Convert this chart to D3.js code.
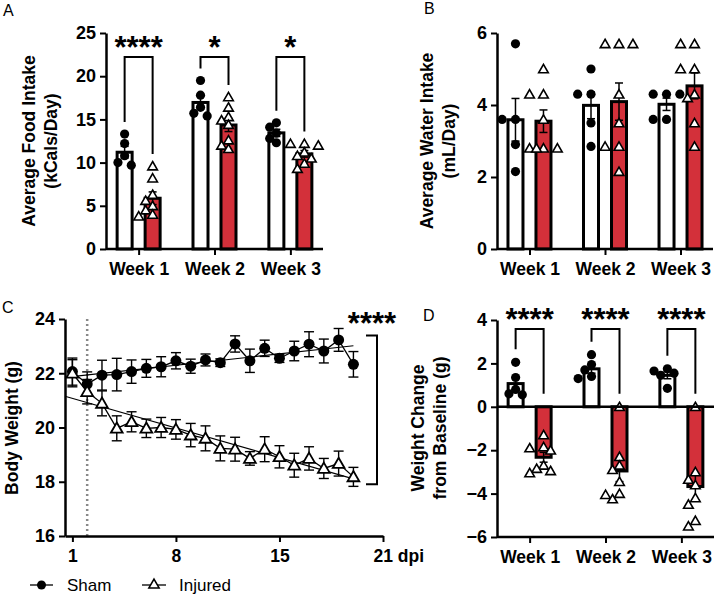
<!DOCTYPE html>
<html>
<head>
<meta charset="utf-8">
<script src="https://cdn.jsdelivr.net/npm/d3@7"></script>
<style>
  body { margin: 0; background: #fff; }
  svg { font-family: 'Liberation Sans', Arial, sans-serif; }
</style>
</head>
<body>
<svg id="chart" width="714" height="597"></svg>
<script>
// ---- data ----
const weeks = ['Week 1', 'Week 2', 'Week 3']

const foodSham = [[13.3, 12.2, 10.8, 10.0, 9.7], [19.5, 17.8, 16.4, 15.7, 15.4], [14.6, 14.1, 13.4, 12.8, 12.3]]
const foodInjured = [[9.6, 8.2, 6.3, 5.6, 5.0, 4.5, 4.0, 3.8], [17.6, 16.4, 15.3, 14.9, 14.4, 12.6, 12.0, 11.6], [12.2, 12.2, 12.0, 11.2, 10.8, 10.5, 9.9, 9.3]]
const foodStars = ['****', '*', '*']
const foodTicks = [0, 5, 10, 15, 20, 25]

const waterSham = [[5.7, 3.6, 3.6, 2.9, 2.15], [5.0, 4.3, 4.3, 3.5, 2.85], [4.3, 4.3, 4.3, 3.6, 3.6]]
const waterInjured = [[5.0, 4.3, 4.3, 3.6, 2.8, 2.8, 2.8, 2.8], [5.7, 5.7, 5.7, 4.3, 3.5, 2.85, 2.85, 2.15], [5.7, 5.7, 5.0, 5.0, 4.3, 4.2, 3.5, 2.85]]
const waterTicks = [0, 2, 4, 6]

const changeSham = [[2.05, 1.35, 0.8, 0.6, 0.55], [2.4, 1.95, 1.7, 1.4, 1.3], [1.75, 1.65, 1.55, 1.45, 0.85]]
const changeInjured = [[-1.3, -1.85, -1.9, -2.0, -2.7, -2.85, -2.95, -3.05], [0, -2.3, -2.7, -2.9, -3.45, -4.0, -4.05, -4.25], [0, -3.0, -3.35, -3.6, -4.2, -4.5, -5.25, -5.5]]
const changeStars = ['****', '****', '****']
const changeTicks = [-6, -4, -2, 0, 2, 4]

const days = [1, 2, 3, 4, 5, 6, 7, 8, 9, 10, 11, 12, 13, 14, 15, 16, 17, 18, 19, 20]
const shamWeight = [22.06, 21.6, 21.93, 21.95, 22.06, 22.18, 22.24, 22.46, 22.26, 22.49, 22.39, 23.08, 22.46, 22.92, 22.55, 22.82, 23.07, 22.82, 23.23, 22.33]
const shamSem = [0.5, 0.45, 0.55, 0.6, 0.43, 0.33, 0.37, 0.3, 0.26, 0.22, 0.14, 0.3, 0.43, 0.3, 0.15, 0.36, 0.46, 0.44, 0.42, 0.47]
const injuredWeight = [22.0, 21.32, 20.89, 19.97, 20.21, 19.97, 20.0, 19.93, 19.72, 19.6, 19.23, 19.2, 18.86, 19.2, 18.92, 18.61, 18.86, 18.49, 18.67, 18.18]
const injuredSem = [0.5, 0.45, 0.46, 0.46, 0.37, 0.34, 0.37, 0.36, 0.43, 0.46, 0.46, 0.44, 0.25, 0.46, 0.41, 0.44, 0.43, 0.37, 0.46, 0.35]
const injuryDay = 2
const dayTicks = [1, 8, 15, 22]
const dayTickLabels = ['1', '8', '15', '21 dpi']
const weightTicks = [16, 18, 20, 22, 24]

const red = '#d3303a'
const axisWidth = 2.5
const svg = d3.select('#chart')

const sem = vals => d3.deviation(vals) / Math.sqrt(vals.length)

// simple beeswarm so overlapping points spread sideways a little
function swarm (vals, y, r) {
  const placed = []
  const steps = [0, -1, 1, -2, 2]
  return vals.map(v => {
    const py = y(v)
    let best = 0
    let bestGap = -1
    for (const s of steps) {
      const dx = s * r
      const gap = d3.min(placed, p => Math.hypot(p.x - dx, p.y - py)) ?? Infinity
      if (gap >= r * 1.1) { best = dx; break }
      if (gap > bestGap) { bestGap = gap; best = dx }
    }
    placed.push({ x: best, y: py })
    return best
  })
}

function styleAxis (g) {
  g.select('.domain').attr('stroke-width', axisWidth)
  g.selectAll('.tick line').attr('stroke-width', 2)
  g.selectAll('.tick text').attr('font-size', 18).attr('font-weight', 'bold').attr('fill', '#000')
}

function yTitle (lines, x, yMid) {
  lines.forEach((t, i) => {
    svg.append('text')
      .attr('transform', `translate(${x[i]},${yMid}) rotate(-90)`)
      .attr('text-anchor', 'middle')
      .attr('dominant-baseline', 'central')
      .attr('font-size', 17.5)
      .attr('font-weight', 'bold')
      .text(t)
  })
}

function letter (t, x, y) {
  svg.append('text').attr('x', x).attr('y', y).attr('font-size', 16).text(t)
}

function triangle (size) {
  return d3.symbol(d3.symbolTriangle).size(size)()
}

function barPanel (o) {
  const y = d3.scaleLinear().domain(o.domain).range([o.bottom, o.top])
  const x = d3.scalePoint().domain(weeks).range([o.left, o.right]).padding(0.43)
  const g = svg.append('g')
  const off = 14
  const bw = 15
  const base = y(0)

  const groups = []
  weeks.forEach((w, i) => {
    groups.push({ w, cx: x(w) - off, vals: o.sham[i], kind: 'sham' })
    groups.push({ w, cx: x(w) + off, vals: o.injured[i], kind: 'injured' })
  })

  groups.forEach(d => {
    const m = d3.mean(d.vals)
    const e = sem(d.vals)
    g.append('rect')
      .attr('x', d.cx - bw / 2)
      .attr('width', bw)
      .attr('y', Math.min(base, y(m)))
      .attr('height', Math.abs(base - y(m)))
      .attr('fill', d.kind === 'sham' ? '#fff' : red)
      .attr('stroke', '#000')
      .attr('stroke-width', 3)
    const eb = g.append('g').attr('stroke', '#000').attr('stroke-width', 1.5)
    eb.append('line').attr('x1', d.cx).attr('x2', d.cx).attr('y1', y(m - e)).attr('y2', y(m + e))
    ;[m - e, m + e].forEach(v => {
      eb.append('line').attr('x1', d.cx - 4).attr('x2', d.cx + 4).attr('y1', y(v)).attr('y2', y(v))
    })
    const r = d.kind === 'sham' ? 4.6 : 4.8
    const dx = swarm(d.vals, y, r * 1.45)
    d.vals.forEach((v, j) => {
      if (d.kind === 'sham') {
        g.append('circle').attr('cx', d.cx + dx[j]).attr('cy', y(v)).attr('r', r).attr('fill', '#000')
      } else {
        g.append('path')
          .attr('d', triangle(40))
          .attr('transform', `translate(${d.cx + dx[j]},${y(v) + 1})`)
          .attr('fill', '#fff')
          .attr('stroke', '#000')
          .attr('stroke-width', 1.6)
      }
    })
  })

  // axes
  const ya = g.append('g').attr('transform', `translate(${o.left},0)`)
    .call(d3.axisLeft(y).tickValues(o.ticks).tickFormat(d3.format('d')).tickSize(6).tickPadding(4).tickSizeOuter(0))
  styleAxis(ya)
  const xa = g.append('g').attr('transform', `translate(0,${o.bottom})`)
    .call(d3.axisBottom(x).tickSize(6).tickPadding(8).tickSizeOuter(0))
  xa.select('.domain').attr('d', `M${o.left},0H${o.right}`)
  styleAxis(xa)
  xa.selectAll('.tick text').attr('font-size', 17.5)
  if (o.zeroLine) {
    g.append('line').attr('x1', o.left).attr('x2', o.right).attr('y1', base).attr('y2', base)
      .attr('stroke', '#000').attr('stroke-width', axisWidth)
  }

  // significance brackets
  if (o.stars) {
    weeks.forEach((w, i) => {
      const lx = x(w) - off
      const rx = x(w) + off
      const ly = Math.min(y(d3.max(o.sham[i])), base) - o.gap
      const ry = Math.min(y(d3.max(o.injured[i])), base) - o.gap
      g.append('path')
        .attr('d', `M${lx},${ly}V${o.bracketY}H${rx}V${ry}`)
        .attr('fill', 'none').attr('stroke', '#000').attr('stroke-width', 2)
      g.append('text')
        .attr('x', x(w)).attr('y', o.bracketY + 1)
        .attr('text-anchor', 'middle')
        .attr('font-size', 31).attr('font-weight', 'bold')
        .text(o.stars[i])
    })
  }
}

// ---- Panel A ----
barPanel({ left: 106, right: 323, top: 33, bottom: 249, domain: [0, 25], ticks: foodTicks, sham: foodSham, injured: foodInjured, stars: foodStars, bracketY: 57, gap: 12 })
yTitle(['Average Food Intake', '(kCals/Day)'], [29, 51], 141)
letter('A', 3, 16)

// ---- Panel B ----
barPanel({ left: 497, right: 713, top: 33, bottom: 249, domain: [0, 6], ticks: waterTicks, sham: waterSham, injured: waterInjured })
yTitle(['Average Water Intake', '(mL/Day)'], [427, 449], 141)
letter('B', 424, 14)

// ---- Panel D ----
barPanel({ left: 497, right: 714, top: 320, bottom: 537, domain: [-6, 4], ticks: changeTicks, sham: changeSham, injured: changeInjured, stars: changeStars, bracketY: 329, gap: 13, zeroLine: true })
yTitle(['Weight Change', 'from Baseline (g)'], [418, 440], 428)
letter('D', 423, 321)

// ---- Panel C ----
{
  const left = 65
  const right = 383
  const top = 319
  const bottom = 536
  const x = d3.scaleLinear().domain([0.5, 22]).range([left, right])
  const y = d3.scaleLinear().domain([16, 24]).range([bottom, top])
  const g = svg.append('g')

  g.append('line')
    .attr('x1', x(injuryDay)).attr('x2', x(injuryDay)).attr('y1', top).attr('y2', bottom)
    .attr('stroke', '#888').attr('stroke-width', 2.5).attr('stroke-dasharray', '2,3')

  const series = [
    { kind: 'sham', mean: shamWeight, err: shamSem },
    { kind: 'injured', mean: injuredWeight, err: injuredSem }
  ]

  series.forEach(s => {
    // linear regression through the means
    const mx = d3.mean(days)
    const my = d3.mean(s.mean)
    const slope = d3.sum(days, (d, i) => (d - mx) * (s.mean[i] - my)) / d3.sum(days, d => (d - mx) ** 2)
    const fit = d => my + slope * (d - mx)
    g.append('line')
      .attr('x1', x(0.5)).attr('y1', y(fit(0.5)))
      .attr('x2', x(days[days.length - 1])).attr('y2', y(fit(days[days.length - 1])))
      .attr('stroke', '#000').attr('stroke-width', 1.1)

    g.append('path')
      .datum(days)
      .attr('d', d3.line().x(d => x(d)).y((d, i) => y(s.mean[i])))
      .attr('fill', 'none').attr('stroke', '#000').attr('stroke-width', 1.3)

    days.forEach((d, i) => {
      const cx = x(d)
      const lo = y(s.mean[i] - s.err[i])
      const hi = y(s.mean[i] + s.err[i])
      const eb = g.append('g').attr('stroke', '#000').attr('stroke-width', 1.4)
      eb.append('line').attr('x1', cx).attr('x2', cx).attr('y1', lo).attr('y2', hi)
      ;[lo, hi].forEach(v => eb.append('line').attr('x1', cx - 5).attr('x2', cx + 5).attr('y1', v).attr('y2', v))
    })
  })

  series.forEach(s => {
    days.forEach((d, i) => {
      if (s.kind === 'sham') {
        g.append('circle').attr('cx', x(d)).attr('cy', y(s.mean[i])).attr('r', 5.5).attr('fill', '#000')
      } else {
        g.append('path')
          .attr('d', triangle(60))
          .attr('transform', `translate(${x(d)},${y(s.mean[i]) + 1})`)
          .attr('fill', '#fff').attr('stroke', '#000').attr('stroke-width', 1.8)
      }
    })
  })

  const ya = g.append('g').attr('transform', `translate(${left},0)`)
    .call(d3.axisLeft(y).tickValues(weightTicks).tickSize(6).tickPadding(4).tickSizeOuter(0))
  styleAxis(ya)
  const xa = g.append('g').attr('transform', `translate(0,${bottom})`)
    .call(d3.axisBottom(x).tickValues(dayTicks).tickFormat((d, i) => dayTickLabels[i]).tickSize(6).tickPadding(8).tickSizeOuter(0))
  styleAxis(xa)
  xa.selectAll('.tick text').attr('font-size', 17.5)
    .filter((d, i) => i === dayTicks.length - 1).attr('text-anchor', 'start').attr('dx', -10)

  // right bracket between the curves at the last day
  const last = days.length - 1
  const bTop = y(shamWeight[last] + shamSem[last]) - 16
  const bBot = y(injuredWeight[last] - injuredSem[last]) - 2
  const bx = 377
  g.append('path')
    .attr('d', `M${bx - 11},${bTop}H${bx}V${bBot}H${bx - 11}`)
    .attr('fill', 'none').attr('stroke', '#000').attr('stroke-width', 2)
  g.append('text')
    .attr('x', 372).attr('y', 334)
    .attr('text-anchor', 'middle')
    .attr('font-size', 31).attr('font-weight', 'bold')
    .text('****')

  yTitle(['Body Weight (g)'], [12], 428)
  letter('C', 2, 313)

  // legend
  const ly = 585
  const lg = svg.append('g').attr('font-size', 17)
  lg.append('line').attr('x1', 30).attr('x2', 53).attr('y1', ly).attr('y2', ly).attr('stroke', '#000').attr('stroke-width', 1.3)
  lg.append('circle').attr('cx', 41.5).attr('cy', ly).attr('r', 4.5).attr('fill', '#000')
  lg.append('text').attr('x', 67).attr('y', ly + 6).text('Sham')
  lg.append('line').attr('x1', 142).attr('x2', 166).attr('y1', ly).attr('y2', ly).attr('stroke', '#000').attr('stroke-width', 1.3)
  lg.append('path').attr('d', triangle(45)).attr('transform', `translate(154,${ly})`).attr('fill', '#fff').attr('stroke', '#000').attr('stroke-width', 1.6)
  lg.append('text').attr('x', 179).attr('y', ly + 6).text('Injured')
}
</script>
</body>
</html>
